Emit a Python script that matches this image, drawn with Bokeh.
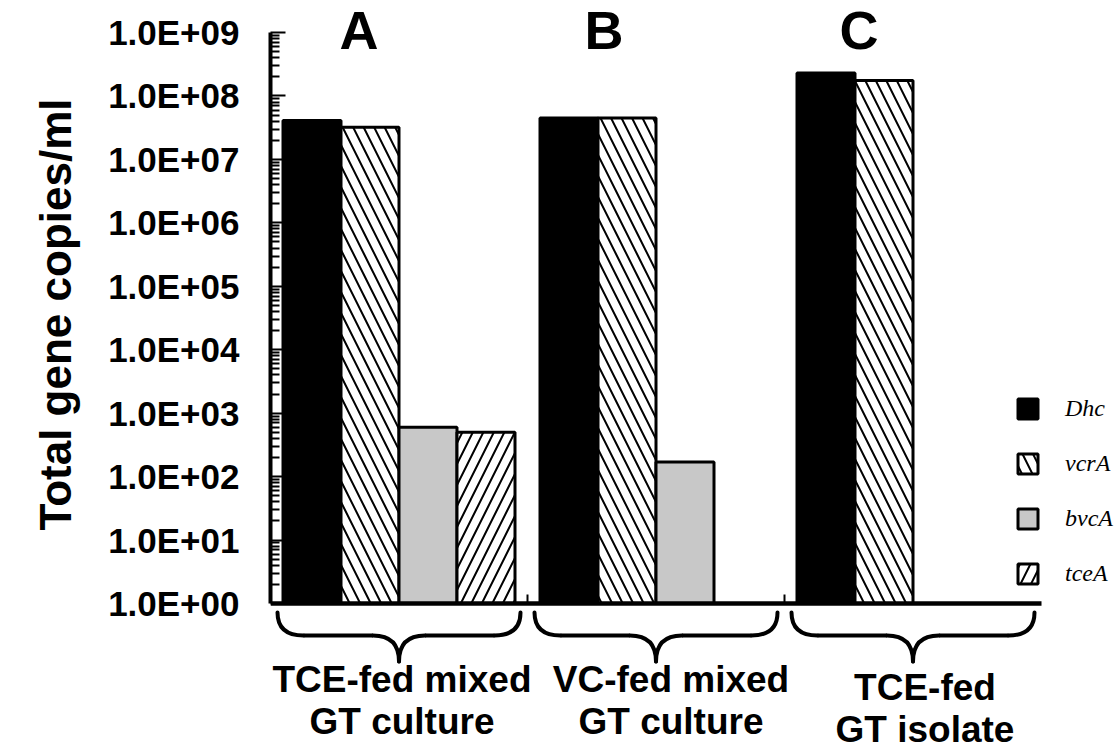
import numpy as np
from bokeh.plotting import figure
from bokeh.models import Range1d, LinearScale, FixedTicker, Title
from bokeh.core.properties import value
from bokeh.embed import file_html
from bokeh.resources import INLINE

# ---------------- data ----------------
groups = ["TCE-fed mixed GT culture", "VC-fed mixed GT culture", "TCE-fed GT isolate"]
group_line1 = ["TCE-fed mixed", "VC-fed mixed", "TCE-fed"]
group_line2 = ["GT culture", "GT culture", "GT isolate"]
panel_letters = ["A", "B", "C"]
genes = ["Dhc", "vcrA", "bvcA", "tceA"]
dhc = [4.1e7, 4.5e7, 2.3e8]
vcra = [3.2e7, 4.5e7, 1.75e8]
bvca = [6.0e2, 1.7e2, None]
tcea = [5.0e2, None, None]
y_tick_values = [1e0, 1e1, 1e2, 1e3, 1e4, 1e5, 1e6, 1e7, 1e8, 1e9]
y_tick_labels = ["1.0E+00", "1.0E+01", "1.0E+02", "1.0E+03", "1.0E+04",
                 "1.0E+05", "1.0E+06", "1.0E+07", "1.0E+08", "1.0E+09"]
y_title = "Total gene copies/ml"

# ---------------- layout constants ----------------
W, H = 1117, 751
LEFT = 270
TOP_PX = 32
BASE_PX = 603
DEC = (BASE_PX - TOP_PX) / 9.0
CAT_PX = 257.0
BW = 58.0 / CAT_PX
FONT = "Liberation Sans"

x_range = Range1d(0, (W - LEFT) / CAT_PX)
y_range = Range1d(10 ** (-(H - BASE_PX) / DEC), 10 ** (9 + TOP_PX / DEC))

p = figure(width=W, height=H, x_range=x_range, y_range=y_range,
           y_axis_type="log", x_axis_location=None,
           toolbar_location=None, output_backend="svg",
           min_border_left=LEFT, min_border_right=0,
           min_border_top=0, min_border_bottom=0)
p.extra_y_ranges = {"px": Range1d(H, 0)}
p.extra_y_scales = {"px": LinearScale()}
p.outline_line_color = None
p.xgrid.visible = False
p.ygrid.visible = False
p.background_fill_color = "white"
p.border_fill_color = "white"

# y axis
ax = p.yaxis[0]
minor = [m * 10 ** k for k in range(9) for m in range(2, 10)]
ax.ticker = FixedTicker(ticks=y_tick_values, minor_ticks=minor)
ax.major_label_overrides = dict(zip(y_tick_values, y_tick_labels))
ax.bounds = (y_tick_values[0], y_tick_values[-1])
ax.axis_line_width = 4
ax.axis_line_color = "black"
ax.major_tick_in = 15
ax.major_tick_out = 0
ax.minor_tick_in = 9
ax.minor_tick_out = 0
ax.major_tick_line_width = 2
ax.minor_tick_line_width = 2
ax.major_label_text_font = FONT
ax.major_label_text_font_style = "bold"
ax.major_label_text_font_size = "35px"
ax.major_label_text_color = "black"
ax.major_label_standoff = 31

# y title in the left panel, its upper end placed near the top of the axis
p.add_layout(Title(text=y_title, align="right", offset=98, standoff=48,
                   vertical_align="top",
                   text_font=FONT, text_font_style="bold",
                   text_font_size="44px", text_color="black"), "left")

# bars
centers = np.arange(len(groups)) + 0.5
series = [dhc, vcra, bvca, tcea]
styles = [
    dict(fill_color="black", hatch_pattern=None),
    dict(fill_color="white", hatch_pattern="\\"),
    dict(fill_color="#c8c8c8", hatch_pattern=None),
    dict(fill_color="white", hatch_pattern="/"),
]
for k, (gene, vals, st) in enumerate(zip(genes, series, styles)):
    xs = [centers[i] + (k - 1.5) * BW for i, v in enumerate(vals) if v is not None]
    tops = [v for v in vals if v is not None]
    kw = dict(x=xs, top=tops, bottom=1, width=BW,
              fill_color=st["fill_color"], line_color="black", line_width=3,
              legend_label=gene)
    if st["hatch_pattern"]:
        kw.update(hatch_pattern=st["hatch_pattern"], hatch_color="black",
                  hatch_scale=21, hatch_weight=2)
    p.vbar(**kw)

# baseline (x axis) and category separators
n = len(groups)
p.segment(x0=[0], y0=[y_tick_values[0]], x1=[n], y1=[y_tick_values[0]],
          line_color="black", line_width=4.5)
sep = list(range(1, n))
p.segment(x0=sep, y0=[BASE_PX] * len(sep), x1=sep, y1=[BASE_PX - 9] * len(sep),
          y_range_name="px", line_color="black", line_width=2)

# braces
HALF = 121.5 / CAT_PX
RX = 26 / CAT_PX
Y_TIP, Y_MID, Y_CUSP = 612, 635, 661
for c in centers:
    for s in (-1, 1):
        xe = c + s * HALF
        p.quadratic(x0=[xe], y0=[Y_TIP], x1=[xe - s * RX], y1=[Y_MID],
                    cx=[xe], cy=[Y_MID], y_range_name="px",
                    line_color="black", line_width=4, line_cap="round")
        p.segment(x0=[xe - s * RX], y0=[Y_MID], x1=[c + s * RX], y1=[Y_MID],
                  y_range_name="px", line_color="black", line_width=4)
        p.quadratic(x0=[c + s * RX], y0=[Y_MID], x1=[c], y1=[Y_CUSP],
                    cx=[c], cy=[Y_MID], y_range_name="px",
                    line_color="black", line_width=4, line_cap="round")

# panel letters
LETTER_DX = [-40, -52, -54]
p.text(x=[c + d / CAT_PX for c, d in zip(centers, LETTER_DX)], y=[29] * n,
       text=panel_letters, y_range_name="px",
       text_font=value(FONT), text_font_style="bold", text_font_size="54px",
       text_align="center", text_baseline="alphabetic", text_color="black")

# category labels
LABEL_DX = [3, 15, 12]
LABEL_DY = [0, 0, 8]
lx = [c + d / CAT_PX for c, d in zip(centers, LABEL_DX)]
p.text(x=lx, y=[679 + d for d in LABEL_DY], text=group_line1, y_range_name="px",
       text_font=value(FONT), text_font_style="bold", text_font_size="37px",
       text_align="center", text_baseline="alphabetic", text_color="black")
p.text(x=lx, y=[721 + d for d in LABEL_DY], text=group_line2, y_range_name="px",
       text_font=value(FONT), text_font_style="bold", text_font_size="37px",
       text_align="center", text_baseline="alphabetic", text_color="black")

# legend
lg = p.legend[0]
lg.location = (745, 164)
lg.padding = 0
lg.margin = 0
lg.spacing = 28
lg.glyph_width = 25
lg.glyph_height = 25
lg.label_height = 25
lg.label_standoff = 25
lg.label_text_font = "Liberation Serif"
lg.label_text_font_style = "italic"
lg.label_text_font_size = "24px"
lg.label_text_color = "black"
lg.border_line_color = None
lg.background_fill_alpha = 0

open("out.html", "w").write(file_html(p, INLINE))
